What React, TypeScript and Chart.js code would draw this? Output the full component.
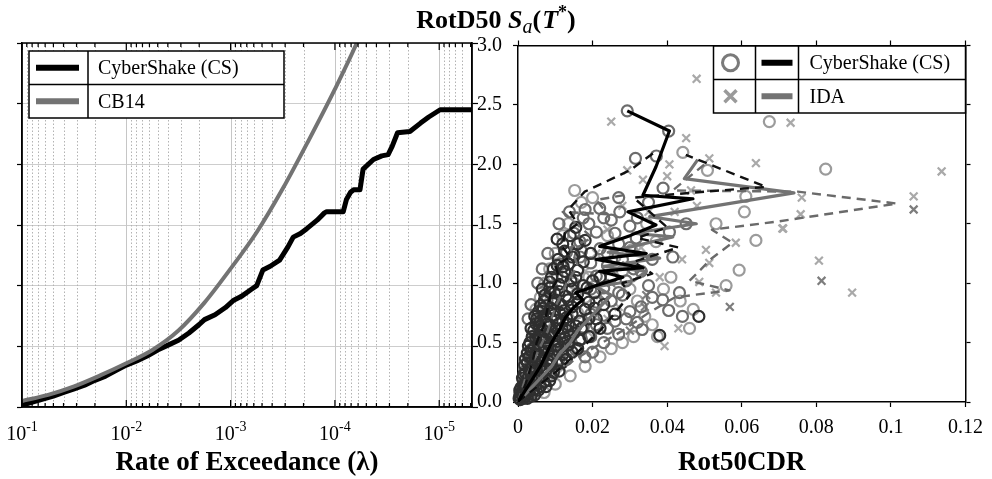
import React, { useEffect, useRef } from 'react';
import { Chart, registerables } from 'chart.js';

Chart.register(...registerables);

const SERIF = "'Liberation Serif', 'Times New Roman', serif";

// ---------- Left panel: hazard curves ----------
const CB14_LAMBDA = [0.1, 0.0562, 0.0316, 0.0178, 0.01, 0.00562, 0.00316, 0.00178, 0.001, 0.000562, 0.000316, 0.000178, 0.0001, 0.0000617, 0.0000398];
const CB14_SA = [0.05, 0.1, 0.17, 0.26, 0.36, 0.47, 0.63, 0.86, 1.14, 1.44, 1.8, 2.2, 2.62, 3.0, 3.4];

const CS_LAMBDA = [0.1, 0.0794, 0.0631, 0.0501, 0.0398, 0.0316, 0.0251, 0.02, 0.0158, 0.0126, 0.01, 0.00794, 0.00631, 0.00501, 0.00398, 0.00316, 0.00251, 0.002, 0.00178, 0.00141, 0.00112, 0.000933, 0.000794, 0.000631, 0.000562, 0.00049, 0.000417, 0.000339, 0.000282, 0.000251, 0.000214, 0.000186, 0.000148, 0.000126, 0.00012, 0.0000832, 0.0000776, 0.0000708, 0.0000661, 0.0000575, 0.0000537, 0.0000427, 0.0000355, 0.0000309, 0.0000282, 0.0000251, 0.0000191, 0.0000151, 0.0000126, 0.0000098, 0.0000048];
const CS_SA = [0.015, 0.04, 0.065, 0.09, 0.12, 0.15, 0.18, 0.22, 0.255, 0.3, 0.345, 0.38, 0.42, 0.47, 0.51, 0.55, 0.61, 0.68, 0.72, 0.76, 0.82, 0.88, 0.91, 0.97, 1.0, 1.13, 1.16, 1.21, 1.32, 1.4, 1.43, 1.47, 1.54, 1.6, 1.61, 1.61, 1.71, 1.77, 1.79, 1.79, 1.96, 2.04, 2.07, 2.08, 2.15, 2.26, 2.27, 2.34, 2.39, 2.45, 2.45];

const LAMBDA_MIN = 0.00000485;
const LAMBDA_MAX = 0.1;
const DECADES = [0.1, 0.01, 0.001, 0.0001, 0.00001];
const DECADE_EXPONENTS = ['-1', '-2', '-3', '-4', '-5'];
const MANTISSAS = [1, 2, 3, 4, 5, 6, 7, 8, 9];

const SA_TICKS = [0, 0.5, 1, 1.5, 2, 2.5, 3];
const SA_TICK_LABELS = ['0.0', '0.5', '1.0', '1.5', '2.0', '2.5', '3.0'];
const CDR_TICKS = [0, 0.02, 0.04, 0.06, 0.08, 0.1, 0.12];
const CDR_TICK_LABELS = ['0', '0.02', '0.04', '0.06', '0.08', '0.1', '0.12'];

// ---------- Right panel: Sa vs CDR ----------
const CS_DARK: number[][] = [
  [0.0003, 0.03], [0.001, 0.06], [0.0018, 0.04], [0.0008, 0.12], [0.002, 0.11], [0.0032, 0.13],
  [0.0012, 0.2], [0.0028, 0.21], [0.0045, 0.19], [0.0018, 0.31], [0.0038, 0.29], [0.006, 0.3], [0.0078, 0.28],
  [0.0025, 0.41], [0.0048, 0.4], [0.007, 0.42], [0.0095, 0.39], [0.0032, 0.5], [0.0056, 0.52], [0.008, 0.49],
  [0.0105, 0.51], [0.0135, 0.48], [0.0042, 0.6], [0.0066, 0.61], [0.009, 0.59], [0.0118, 0.62], [0.015, 0.58],
  [0.005, 0.7], [0.0076, 0.72], [0.0102, 0.69], [0.013, 0.71], [0.0165, 0.68], [0.006, 0.81], [0.0088, 0.79],
  [0.0115, 0.82], [0.0145, 0.8], [0.018, 0.78], [0.0072, 0.9], [0.0098, 0.92], [0.0128, 0.89], [0.016, 0.91],
  [0.0085, 1.01], [0.011, 0.99], [0.0142, 1.02], [0.0175, 0.98], [0.0095, 1.12], [0.0125, 1.1], [0.016, 1.11],
  [0.0108, 1.2], [0.0145, 1.22], [0.012, 1.33], [0.018, 1.36], [0.0485, 0.72], [0.038, 0.56], [0.022, 0.62],
  [0.026, 0.74], [0.0121, 1.14], [0.0086, 0.92], [0.0055, 0.1], [0.0085, 0.18], [0.011, 0.26], [0.013, 0.36],
  [0.016, 0.45], [0.019, 0.55], [0.021, 0.7], [0.023, 0.82], [0.0205, 0.92], [0.022, 1.05], [0.0195, 1.25],
  [0.0012, 0.09], [0.0022, 0.07], [0.0028, 0.16], [0.0015, 0.14], [0.004, 0.14], [0.0005, 0.1],
  [0.002, 0.24], [0.0033, 0.25], [0.005, 0.22], [0.0025, 0.33], [0.0045, 0.34], [0.0065, 0.26], [0.0085, 0.31],
  [0.003, 0.38], [0.0042, 0.45], [0.0058, 0.37], [0.0075, 0.46], [0.0088, 0.36], [0.0105, 0.44], [0.012, 0.4],
  [0.0038, 0.55], [0.006, 0.56], [0.0075, 0.54], [0.0092, 0.55], [0.011, 0.57], [0.0125, 0.54], [0.014, 0.55],
  [0.0165, 0.52], [0.0048, 0.66], [0.006, 0.68], [0.0085, 0.65], [0.0095, 0.73], [0.011, 0.66], [0.0135, 0.65],
  [0.0145, 0.74], [0.017, 0.62], [0.019, 0.7], [0.0055, 0.76], [0.007, 0.85], [0.0085, 0.76], [0.01, 0.86],
  [0.0125, 0.77], [0.0135, 0.86], [0.016, 0.84], [0.019, 0.84], [0.0205, 0.79], [0.0065, 0.95], [0.0085, 0.96],
  [0.011, 0.93], [0.012, 1.05], [0.0145, 0.95], [0.0155, 1.05], [0.0185, 0.96], [0.02, 1.02], [0.009, 1.05],
  [0.0105, 1.15], [0.0135, 1.16], [0.015, 1.24], [0.0175, 1.18], [0.0125, 1.27], [0.0105, 1.37], [0.014, 1.4],
  [0.016, 1.33], [0.0155, 1.47],
  [0.0006, 0.02], [0.0014, 0.03], [0.0025, 0.03], [0.0035, 0.05], [0.0045, 0.06], [0.0005, 0.05], [0.0015, 0.1],
  [0.0028, 0.09], [0.0042, 0.1], [0.006, 0.13], [0.0022, 0.15], [0.0036, 0.2], [0.0055, 0.2], [0.007, 0.17],
  [0.0015, 0.23], [0.003, 0.27], [0.0048, 0.27], [0.0065, 0.35], [0.008, 0.35], [0.0095, 0.25], [0.0105, 0.32],
  [0.002, 0.36], [0.0035, 0.43], [0.0055, 0.46], [0.0082, 0.43], [0.01, 0.47], [0.0115, 0.46], [0.0028, 0.47],
  [0.0048, 0.53], [0.0068, 0.55], [0.0085, 0.57], [0.01, 0.62], [0.012, 0.68], [0.0035, 0.62], [0.0058, 0.63],
  [0.0078, 0.66], [0.0068, 0.79], [0.0095, 0.83], [0.0112, 0.75], [0.0045, 0.72], [0.0098, 0.77], [0.0135, 0.6],
  [0.0155, 0.64], [0.0125, 0.5], [0.0145, 0.42], [0.0118, 0.33], [0.009, 0.22], [0.0075, 0.13],
];
const CS_MID: number[][] = [
  [0.0005, 0.08], [0.0025, 0.06], [0.004, 0.08], [0.0015, 0.16], [0.0035, 0.17], [0.0055, 0.15], [0.002, 0.26],
  [0.005, 0.25], [0.0075, 0.24], [0.009, 0.33], [0.0032, 0.36], [0.011, 0.36], [0.0038, 0.45], [0.0062, 0.45],
  [0.012, 0.43], [0.0155, 0.44], [0.017, 0.53], [0.0195, 0.55], [0.0045, 0.56], [0.0175, 0.63], [0.021, 0.65],
  [0.0055, 0.65], [0.0195, 0.74], [0.023, 0.73], [0.0065, 0.76], [0.021, 0.84], [0.025, 0.85], [0.0078, 0.86],
  [0.0195, 0.95], [0.023, 0.96], [0.009, 0.97], [0.021, 1.06], [0.025, 1.05], [0.0105, 1.06], [0.0195, 1.17],
  [0.024, 1.15], [0.0115, 1.16], [0.013, 1.26], [0.017, 1.27], [0.022, 1.29], [0.015, 1.42], [0.021, 1.43],
  [0.0166, 1.35], [0.027, 1.33], [0.0219, 1.63], [0.0273, 1.6], [0.0317, 1.38], [0.0406, 1.43], [0.0415, 1.22],
  [0.0433, 0.92], [0.0388, 0.86], [0.0315, 2.05], [0.0404, 2.28], [0.0293, 2.45], [0.0389, 1.8], [0.0451, 1.5],
  [0.028, 0.9], [0.03, 0.76], [0.032, 0.67], [0.027, 0.57], [0.0333, 0.61], [0.0404, 0.77], [0.0441, 0.72],
  [0.035, 0.98], [0.033, 1.1], [0.036, 1.2], [0.03, 1.48], [0.025, 1.53], [0.0175, 1.55], [0.0138, 1.6],
  [0.0371, 2.07], [0.0166, 1.22], [0.024, 0.62], [0.026, 0.68], [0.029, 0.7], [0.027, 0.92], [0.029, 1.02],
  [0.031, 1.12], [0.028, 1.2], [0.03, 1.3], [0.026, 1.42], [0.033, 0.8], [0.036, 0.88], [0.023, 0.5],
  [0.02, 0.42], [0.018, 0.38], [0.024, 1.25], [0.019, 1.5], [0.023, 1.55], [0.032, 1.55], [0.035, 1.68],
  [0.027, 1.72], [0.018, 1.62], [0.0027, 0.7], [0.0053, 1.0], [0.008, 1.25], [0.011, 1.5], [0.0035, 0.82],
  [0.0065, 1.12],
];
const CS_LIGHT: number[][] = [
  [0.0152, 1.78], [0.0442, 2.1], [0.0508, 1.95], [0.0611, 1.73], [0.0607, 1.6], [0.0531, 1.5], [0.0638, 1.36],
  [0.0593, 1.11], [0.0558, 0.98], [0.0674, 2.36], [0.0825, 1.96], [0.028, 0.5], [0.0374, 0.55], [0.046, 0.62],
  [0.0048, 0.78], [0.006, 0.88], [0.0072, 1.0], [0.0085, 1.12], [0.01, 1.25], [0.012, 1.4], [0.0135, 1.5],
  [0.017, 1.68], [0.02, 1.72], [0.024, 1.4], [0.026, 1.22], [0.028, 1.1], [0.03, 0.95], [0.032, 0.85],
  [0.034, 0.72], [0.036, 0.65], [0.031, 0.55], [0.025, 0.45], [0.022, 0.38], [0.018, 0.3], [0.014, 0.22],
  [0.01, 0.15], [0.007, 0.08], [0.013, 0.55], [0.016, 0.75], [0.018, 0.88], [0.019, 1.05], [0.015, 1.0],
  [0.0345, 1.5], [0.037, 1.35], [0.0305, 1.28], [0.041, 1.05], [0.039, 0.95], [0.0435, 0.85], [0.047, 0.78],
];
const IDA_LIGHT: number[][] = [
  [0.0479, 2.72], [0.025, 2.36], [0.0451, 2.22], [0.0513, 2.05], [0.0406, 2.0], [0.0638, 2.01], [0.0335, 1.87],
  [0.0464, 1.78], [0.0709, 1.46], [0.0584, 1.34], [0.0513, 1.17], [0.0486, 1.01], [0.0531, 0.92], [0.0504, 1.28],
  [0.0731, 2.35], [0.0761, 1.72], [0.0758, 1.58], [0.0711, 1.46], [0.0807, 1.19], [0.0896, 0.92], [0.1061, 1.73],
  [0.1136, 1.94], [0.0393, 0.47], [0.043, 0.62], [0.003, 0.35], [0.006, 0.5], [0.009, 0.65], [0.012, 0.8],
  [0.015, 0.95], [0.018, 1.1], [0.021, 1.25], [0.024, 1.45], [0.02, 0.55], [0.024, 0.7], [0.027, 0.8],
  [0.016, 0.4], [0.012, 0.28], [0.008, 0.2], [0.005, 0.1], [0.028, 1.65], [0.035, 1.6], [0.042, 1.6],
  [0.048, 1.65], [0.044, 1.2], [0.038, 1.05], [0.033, 1.3], [0.0293, 1.95], [0.04, 1.9],
];
const IDA_MID: number[][] = [
  [0.0568, 0.8], [0.0814, 1.02], [0.1061, 1.62], [0.0344, 0.9], [0.029, 1.15], [0.025, 1.0], [0.03, 0.6],
  [0.034, 0.8], [0.022, 0.9], [0.0186, 0.68], [0.0145, 0.5],
];

const CS_MEDIAN: number[][] = [
  [0, 0], [0.002, 0.1], [0.004, 0.2], [0.006, 0.3], [0.0075, 0.4], [0.009, 0.5], [0.011, 0.6], [0.0125, 0.7],
  [0.015, 0.8], [0.0174, 0.86], [0.0155, 0.92], [0.02, 0.97], [0.0281, 1.05], [0.0219, 1.1], [0.0334, 1.13],
  [0.021, 1.2], [0.0344, 1.25], [0.0219, 1.31], [0.03, 1.4], [0.037, 1.49], [0.0295, 1.6], [0.0469, 1.71],
  [0.0335, 1.74], [0.037, 1.98], [0.0406, 2.28], [0.0293, 2.45],
];
const CS_LOWER: number[][] = [
  [0, 0], [0.002, 0.15], [0.004, 0.35], [0.005, 0.5], [0.007, 0.65], [0.008, 0.8], [0.009, 0.95], [0.011, 1.05],
  [0.01, 1.15], [0.014, 1.22], [0.012, 1.3], [0.0125, 1.42], [0.016, 1.5], [0.0135, 1.62], [0.0179, 1.77],
  [0.03, 1.95], [0.037, 2.11],
];
const CS_UPPER: number[][] = [
  [0, 0], [0.006, 0.15], [0.012, 0.3], [0.017, 0.45], [0.022, 0.6], [0.026, 0.75], [0.03, 0.9], [0.028, 1.0],
  [0.036, 1.08], [0.031, 1.18], [0.043, 1.3], [0.032, 1.38], [0.04, 1.47], [0.031, 1.72], [0.05, 1.77],
  [0.0665, 1.81], [0.045, 2.08],
];
const IDA_MEDIAN: number[][] = [
  [0, 0], [0.003, 0.1], [0.006, 0.2], [0.009, 0.3], [0.011, 0.4], [0.014, 0.5], [0.016, 0.6], [0.019, 0.7],
  [0.022, 0.8], [0.025, 0.9], [0.021, 0.97], [0.031, 1.02], [0.0344, 1.1], [0.0227, 1.14], [0.038, 1.21],
  [0.0242, 1.26], [0.0415, 1.39], [0.0308, 1.42], [0.0478, 1.5], [0.0353, 1.56], [0.074, 1.76], [0.0446, 1.88],
  [0.0482, 2.04],
];
const IDA_LOWER: number[][] = [
  [0, 0], [0.002, 0.2], [0.005, 0.4], [0.008, 0.6], [0.01, 0.8], [0.013, 1.0], [0.016, 1.15], [0.014, 1.3],
  [0.02, 1.38], [0.012, 1.6], [0.024, 1.58], [0.021, 1.7], [0.03, 1.75],
];
const IDA_UPPER: number[][] = [
  [0, 0], [0.01, 0.25], [0.02, 0.45], [0.028, 0.6], [0.035, 0.75], [0.042, 0.88], [0.0567, 0.94], [0.046, 1.02],
  [0.052, 1.21], [0.0575, 1.34], [0.052, 1.45], [0.07, 1.52], [0.1016, 1.67], [0.075, 1.77], [0.0415, 1.78],
  [0.05, 2.0],
];

const toXY = (pts: number[][]) => pts.map((p) => ({ x: p[0], y: p[1] }));

const leftDecor = {
  id: 'leftDecor',
  beforeDatasetsDraw(chart: any) {
    const { ctx, chartArea: a, scales } = chart;
    const xs = scales.x;
    ctx.save();
    ctx.lineWidth = 1;
    for (let e = -1; e >= -6; e--) {
      for (const m of MANTISSAS) {
        const v = m * Math.pow(10, e);
        if (v > LAMBDA_MAX * 0.999 || v < LAMBDA_MIN) continue;
        const px = Math.round(xs.getPixelForValue(v)) + 0.5;
        if (px <= a.left + 1 || px >= a.right - 1) continue;
        ctx.beginPath();
        if (m === 1) { ctx.setLineDash([]); ctx.strokeStyle = '#c6c6c6'; }
        else { ctx.setLineDash([1.5, 2]); ctx.strokeStyle = '#b3b3b3'; }
        ctx.moveTo(px, a.top);
        ctx.lineTo(px, a.bottom);
        ctx.stroke();
      }
    }
    ctx.restore();
  },
  afterDraw(chart: any) {
    const { ctx, chartArea: a, scales } = chart;
    const xs = scales.x;
    ctx.save();
    ctx.strokeStyle = '#000';
    ctx.lineWidth = 1.2;
    ctx.setLineDash([]);
    for (let e = -1; e >= -6; e--) {
      for (const m of MANTISSAS) {
        const v = m * Math.pow(10, e);
        if (v > LAMBDA_MAX * 1.001 || v < LAMBDA_MIN) continue;
        const px = xs.getPixelForValue(v);
        const len = m === 1 ? 7 : 4;
        ctx.beginPath();
        ctx.moveTo(px, a.bottom); ctx.lineTo(px, a.bottom - len);
        ctx.moveTo(px, a.top); ctx.lineTo(px, a.top + len);
        ctx.stroke();
      }
    }
    ctx.lineWidth = 1.5;
    ctx.strokeRect(a.left, a.top, a.right - a.left, a.bottom - a.top);
    ctx.fillStyle = '#000';
    ctx.textBaseline = 'alphabetic';
    DECADES.forEach((v, i) => {
      const px = xs.getPixelForValue(v);
      ctx.font = `20px ${SERIF}`;
      const wBase = ctx.measureText('10').width;
      ctx.font = `14px ${SERIF}`;
      const wExp = ctx.measureText(DECADE_EXPONENTS[i]).width;
      const x0 = px - (wBase + wExp) / 2;
      ctx.font = `20px ${SERIF}`;
      ctx.fillText('10', x0, 440);
      ctx.font = `14px ${SERIF}`;
      ctx.fillText(DECADE_EXPONENTS[i], x0 + wBase, 431);
    });
    const lx = a.left + 7, ly = a.top + 8, lw = 255, lh = 67;
    ctx.fillStyle = '#fff';
    ctx.fillRect(lx, ly, lw, lh);
    ctx.strokeStyle = '#000';
    ctx.lineWidth = 1.5;
    ctx.strokeRect(lx, ly, lw, lh);
    ctx.beginPath();
    ctx.moveTo(lx + 59, ly); ctx.lineTo(lx + 59, ly + lh);
    ctx.moveTo(lx, ly + lh / 2); ctx.lineTo(lx + lw, ly + lh / 2);
    ctx.stroke();
    const rows = [
      { label: 'CyberShake (CS)', color: '#000' },
      { label: 'CB14', color: '#737373' },
    ];
    rows.forEach((r, i) => {
      const cy = ly + lh / 4 + (i * lh) / 2;
      ctx.strokeStyle = r.color;
      ctx.lineWidth = 6;
      ctx.beginPath();
      ctx.moveTo(lx + 7, cy); ctx.lineTo(lx + 50, cy);
      ctx.stroke();
      ctx.fillStyle = '#000';
      ctx.font = `20px ${SERIF}`;
      ctx.textBaseline = 'middle';
      ctx.fillText(r.label, lx + 69, cy + 1);
    });
    ctx.restore();
  },
};

const rightDecor = {
  id: 'rightDecor',
  afterDraw(chart: any) {
    const { ctx, chartArea: a } = chart;
    ctx.save();
    const parts = [
      { t: 'RotD50 ', f: `bold 26px ${SERIF}`, dy: 0 },
      { t: 'S', f: `italic bold 26px ${SERIF}`, dy: 0 },
      { t: 'a', f: `italic 20px ${SERIF}`, dy: 5 },
      { t: '(', f: `bold 26px ${SERIF}`, dy: 0 },
      { t: 'T', f: `italic bold 26px ${SERIF}`, dy: 0 },
      { t: '*', f: `bold 18px ${SERIF}`, dy: -10 },
      { t: ')', f: `bold 26px ${SERIF}`, dy: 0 },
    ];
    let total = 0;
    const widths = parts.map((p) => { ctx.font = p.f; const w = ctx.measureText(p.t).width + (p.t === '(' ? 1 : 0); total += w; return w; });
    let x = 496 - total / 2;
    ctx.fillStyle = '#000';
    ctx.textBaseline = 'alphabetic';
    parts.forEach((p, i) => { ctx.font = p.f; ctx.fillText(p.t, x, 28 + p.dy); x += widths[i]; });

    const lw = 252, lh = 67;
    const lx = a.right - lw, ly = a.top + 0.5;
    ctx.fillStyle = '#fff';
    ctx.fillRect(lx, ly, lw, lh);
    ctx.strokeStyle = '#000';
    ctx.lineWidth = 1.5;
    ctx.strokeRect(lx, ly, lw, lh);
    ctx.beginPath();
    ctx.moveTo(lx + 42, ly); ctx.lineTo(lx + 42, ly + lh);
    ctx.moveTo(lx + 85, ly); ctx.lineTo(lx + 85, ly + lh);
    ctx.moveTo(lx, ly + lh / 2); ctx.lineTo(lx + lw, ly + lh / 2);
    ctx.stroke();
    const cy1 = ly + lh / 4, cy2 = ly + (3 * lh) / 4;
    ctx.strokeStyle = '#7a7a7a';
    ctx.lineWidth = 3;
    ctx.beginPath();
    ctx.arc(lx + 17, cy1, 8, 0, Math.PI * 2);
    ctx.stroke();
    ctx.strokeStyle = '#9a9a9a';
    ctx.lineWidth = 3.5;
    ctx.beginPath();
    ctx.moveTo(lx + 11, cy2 - 6); ctx.lineTo(lx + 23, cy2 + 6);
    ctx.moveTo(lx + 23, cy2 - 6); ctx.lineTo(lx + 11, cy2 + 6);
    ctx.stroke();
    ctx.lineWidth = 6;
    ctx.strokeStyle = '#000';
    ctx.beginPath(); ctx.moveTo(lx + 48, cy1); ctx.lineTo(lx + 79, cy1); ctx.stroke();
    ctx.strokeStyle = '#737373';
    ctx.beginPath(); ctx.moveTo(lx + 48, cy2); ctx.lineTo(lx + 79, cy2); ctx.stroke();
    ctx.fillStyle = '#000';
    ctx.font = `20px ${SERIF}`;
    ctx.textBaseline = 'middle';
    ctx.fillText('CyberShake (CS)', lx + 96, cy1 + 1);
    ctx.fillText('IDA', lx + 96, cy2 + 1);
    ctx.restore();
  },
};

const pointSet = (label: string, pts: number[][], style: string, color: string, order: number) => ({
  label,
  data: toXY(pts),
  showLine: false,
  pointStyle: style,
  pointRadius: 5.5,
  pointHoverRadius: 5.5,
  pointBorderWidth: 2.2,
  pointBorderColor: color,
  pointBackgroundColor: 'rgba(0,0,0,0)',
  borderColor: color,
  clip: false,
  order,
});

const lineSet = (label: string, pts: number[][], color: string, width: number, dash: number[], order: number) => ({
  label,
  data: toXY(pts),
  showLine: true,
  pointRadius: 0,
  pointHoverRadius: 0,
  borderColor: color,
  borderWidth: width,
  borderDash: dash,
  borderJoinStyle: 'round',
  tension: 0,
  order,
});

export default function App() {
  const leftRef = useRef<HTMLCanvasElement>(null);
  const rightRef = useRef<HTMLCanvasElement>(null);

  useEffect(() => {
    const borderOpt = { display: true, color: '#000', width: 1.5 };
    const saTicks = (s: any) => { s.ticks = SA_TICKS.map((v) => ({ value: v })); };
    const cdrTicks = (s: any) => { s.ticks = CDR_TICKS.map((v) => ({ value: v })); };

    const left = new Chart(leftRef.current as HTMLCanvasElement, {
      type: 'line',
      data: {
        datasets: [
          {
            label: 'CB14',
            data: CB14_LAMBDA.map((x, i) => ({ x, y: CB14_SA[i] })),
            borderColor: '#737373',
            borderWidth: 4,
            pointRadius: 0,
            cubicInterpolationMode: 'monotone',
            order: 0,
          },
          {
            label: 'CyberShake (CS)',
            data: CS_LAMBDA.map((x, i) => ({ x, y: CS_SA[i] })),
            borderColor: '#000',
            borderWidth: 5,
            pointRadius: 0,
            borderJoinStyle: 'round',
            tension: 0,
            order: 1,
          },
        ],
      } as any,
      options: {
        responsive: false,
        animation: false,
        events: [],
        layout: { padding: { left: 0, right: 487, top: 43, bottom: 0 } },
        plugins: { legend: { display: false }, tooltip: { enabled: false } },
        scales: {
          x: {
            type: 'logarithmic',
            position: 'bottom',
            min: LAMBDA_MIN,
            max: LAMBDA_MAX,
            reverse: true,
            ticks: { display: false },
            grid: { display: false },
            border: borderOpt,
            title: { display: true, text: 'Rate of Exceedance (λ)', color: '#000', font: { family: SERIF, size: 27, weight: 'bold' }, padding: { top: 0, bottom: 0 } },
            afterFit: (s: any) => { s.height = 72; },
          },
          y: {
            position: 'left',
            min: 0,
            max: 3,
            afterBuildTicks: saTicks,
            ticks: { display: false },
            grid: { color: '#cdcdcd', lineWidth: 1, tickColor: '#000', tickLength: 5, tickWidth: 1.2 },
            border: borderOpt,
            afterFit: (s: any) => { s.width = 22; },
          },
          y2: {
            position: 'right',
            min: 0,
            max: 3,
            afterBuildTicks: saTicks,
            ticks: { display: false },
            grid: { drawOnChartArea: false, tickColor: '#000', tickLength: 6, tickWidth: 1.2 },
            border: borderOpt,
            afterFit: (s: any) => { s.width = 33; },
          },
        },
      } as any,
      plugins: [leftDecor],
    });

    const right = new Chart(rightRef.current as HTMLCanvasElement, {
      type: 'scatter',
      data: {
        datasets: [
          lineSet('CS median', CS_MEDIAN, '#000', 3.2, [], 0),
          lineSet('CS lower', CS_LOWER, '#111', 2.4, [9, 6], 1),
          lineSet('CS upper', CS_UPPER, '#111', 2.4, [9, 6], 2),
          lineSet('IDA median', IDA_MEDIAN, '#737373', 3.2, [], 3),
          lineSet('IDA lower', IDA_LOWER, '#6a6a6a', 2.4, [9, 6], 4),
          lineSet('IDA upper', IDA_UPPER, '#6a6a6a', 2.4, [9, 6], 5),
          pointSet('CS dark', CS_DARK, 'circle', '#2f2f2f', 6),
          pointSet('CS mid', CS_MID, 'circle', '#6c6c6c', 7),
          pointSet('IDA mid', IDA_MID, 'crossRot', '#7d7d7d', 8),
          pointSet('CS light', CS_LIGHT, 'circle', '#9b9b9b', 9),
          pointSet('IDA light', IDA_LIGHT, 'crossRot', '#a9a9a9', 10),
        ],
      } as any,
      options: {
        responsive: false,
        animation: false,
        events: [],
        layout: { padding: { left: 440, right: 0, top: 0, bottom: 0 } },
        plugins: { legend: { display: false }, tooltip: { enabled: false } },
        scales: {
          x: {
            type: 'linear',
            position: 'bottom',
            min: 0,
            max: 0.12,
            afterBuildTicks: cdrTicks,
            ticks: {
              autoSkip: false,
              maxRotation: 0,
              padding: 9,
              color: '#000',
              font: { family: SERIF, size: 20 },
              callback: (_v: any, i: number) => CDR_TICK_LABELS[i],
            },
            grid: { drawOnChartArea: false, tickColor: '#000', tickLength: 5, tickWidth: 1.2 },
            border: borderOpt,
            title: { display: true, text: 'Rot50CDR', color: '#000', font: { family: SERIF, size: 27, weight: 'bold' }, padding: { top: 0, bottom: 0 } },
            afterFit: (s: any) => { s.height = 77; },
          },
          x2: {
            type: 'linear',
            position: 'top',
            min: 0,
            max: 0.12,
            afterBuildTicks: cdrTicks,
            ticks: { display: false },
            grid: { drawOnChartArea: false, tickColor: '#000', tickLength: 5, tickWidth: 1.2 },
            border: borderOpt,
            afterFit: (s: any) => { s.height = 45.5; },
          },
          y: {
            position: 'left',
            min: 0,
            max: 3,
            afterBuildTicks: saTicks,
            ticks: {
              padding: 11,
              color: '#000',
              font: { family: SERIF, size: 20 },
              callback: (_v: any, i: number) => SA_TICK_LABELS[i],
            },
            grid: { drawOnChartArea: false, tickColor: '#000', tickLength: 5, tickWidth: 1.2 },
            border: borderOpt,
            afterFit: (s: any) => { s.width = 78; },
          },
          y2: {
            position: 'right',
            min: 0,
            max: 3,
            afterBuildTicks: saTicks,
            ticks: { display: false },
            grid: { drawOnChartArea: false, tickColor: '#000', tickLength: 5, tickWidth: 1.2 },
            border: borderOpt,
            afterFit: (s: any) => { s.width = 25; },
          },
        },
      } as any,
      plugins: [rightDecor],
    });

    return () => {
      left.destroy();
      right.destroy();
    };
  }, []);

  return (
    <div style={{ position: 'fixed', left: 0, top: 0, width: 992, height: 479, background: '#fff', overflow: 'hidden' }}>
      <canvas ref={leftRef} width={992} height={479} style={{ position: 'absolute', left: 0, top: 0 }} />
      <canvas ref={rightRef} width={992} height={479} style={{ position: 'absolute', left: 0, top: 0 }} />
    </div>
  );
}
